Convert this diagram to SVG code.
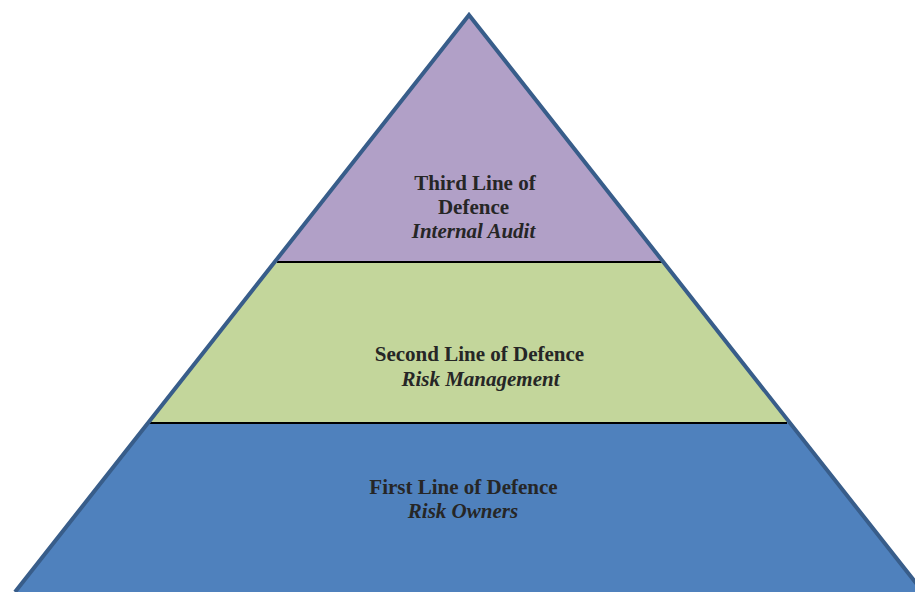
<svg xmlns="http://www.w3.org/2000/svg" width="915" height="592" viewBox="0 0 915 592">
<style>
.t{font-family:"Liberation Serif","Times New Roman",serif;font-size:21px;font-weight:bold;fill:#262626;text-anchor:middle}
.i{font-style:italic}
.div{stroke:#000;stroke-width:2}
</style>
<rect width="915" height="592" fill="#fff"/>
<g id="first-line">
<polygon points="148,423 789,423 923,592 15,592" fill="#4F81BD"/>
<text class="t" x="463.5" y="494">First Line of Defence</text>
<text class="t i" x="463" y="518">Risk Owners</text>
</g>
<g id="second-line">
<polygon points="275,262 663,262 789,423 148,423" fill="#C3D69B"/>
<text class="t" x="479.5" y="361">Second Line of Defence</text>
<text class="t i" x="480.5" y="386">Risk Management</text>
</g>
<g id="third-line">
<polygon points="469,15 663,262 275,262" fill="#B1A0C7"/>
<text class="t" x="475" y="190">Third Line of</text>
<text class="t" x="473.5" y="214">Defence</text>
<text class="t i" x="473.5" y="238">Internal Audit</text>
</g>
<g id="connectors">
<line class="div" x1="277" y1="262" x2="662" y2="262"/>
<line class="div" x1="149" y1="423" x2="787" y2="423"/>
<polyline points="15,592 469,15 923,592" fill="none" stroke="#385D8A" stroke-width="4" stroke-linejoin="miter"/>
</g>
</svg>
